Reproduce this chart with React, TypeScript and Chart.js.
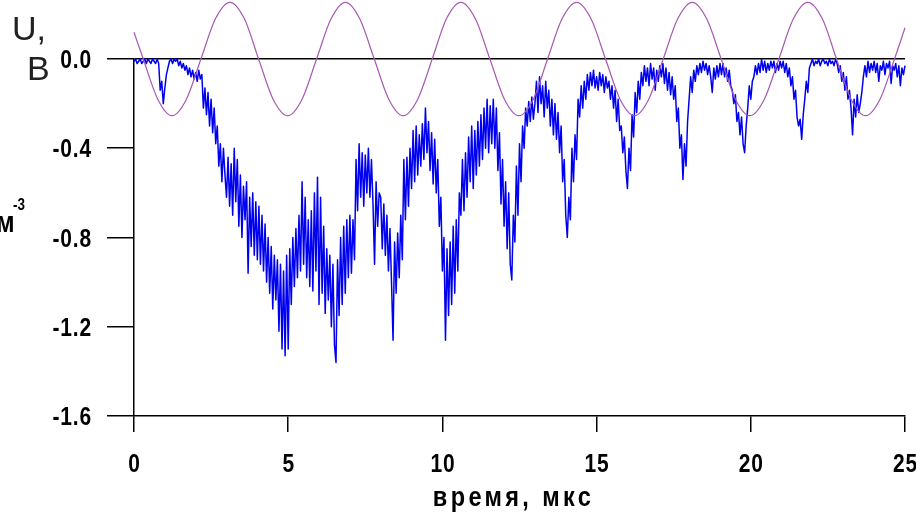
import { useEffect, useRef } from 'react';
import { Chart, registerables } from 'chart.js';

Chart.register(...registerables);

const FONT_BOLD = '"Liberation Sans", Arial, sans-serif';
const FONT_REG = '"Liberation Sans", Arial, sans-serif';
const NARROW = 0.84;

const xTicks = [0, 5, 10, 15, 20, 25];
const xTickLabels = ['0', '5', '10', '15', '20', '25'];
const yTicks = [-1.6, -1.2, -0.8, -0.4, 0];
const yTickLabels = ['-1.6', '-1.2', '-0.8', '-0.4', '0.0'];
const xTitle = 'время, мкс';
const yTitleLine1 = 'U,';
const yTitleLine2 = 'В';
const leftUnit = 'м';
const leftUnitSup = '-3';

// blue signal, sampled every 0.05 µs from t = 0
const blueSampleStep = 0.05;
const blueValues = [
  -0.01, 0, -0.02, -0.01, 0, -0.02, -0.01, 0, -0.02, 0, -0.01, -0.02, 0, -0.01, -0.02, 0, -0.02, -0.14, -0.10, -0.20,
  -0.13, -0.07, -0.04, -0.01, 0, -0.02, 0, -0.01, 0, -0.03, -0.01, -0.04, -0.02, -0.05, -0.03, -0.07, -0.04, -0.08, -0.05, -0.09,
  -0.06, -0.10, -0.05, -0.09, -0.07, -0.22, -0.13, -0.25, -0.15, -0.30, -0.18, -0.33, -0.22, -0.38, -0.30, -0.48, -0.38, -0.55, -0.40, -0.52,
  -0.62, -0.44, -0.66, -0.47, -0.70, -0.40, -0.64, -0.45, -0.75, -0.52, -0.80, -0.57, -0.72, -0.55, -0.96, -0.62, -0.84, -0.60, -0.88, -0.64,
  -0.90, -0.66, -0.92, -0.70, -0.95, -0.74, -1.00, -0.80, -1.05, -0.84, -1.12, -0.88, -1.08, -0.90, -1.22, -0.92, -1.30, -0.95, -1.33, -0.88,
  -1.30, -0.85, -1.10, -0.80, -1.02, -0.76, -0.98, -0.70, -0.95, -0.55, -0.92, -0.62, -0.98, -0.72, -1.02, -0.68, -1.04, -0.60, -0.95, -0.53,
  -1.10, -0.62, -1.05, -0.75, -1.14, -0.85, -1.08, -0.88, -1.20, -0.92, -1.28, -1.36, -0.90, -1.15, -0.80, -1.10, -0.75, -1.05, -0.72, -0.98,
  -0.70, -0.96, -0.72, -0.90, -0.45, -0.68, -0.38, -0.62, -0.42, -0.66, -0.43, -0.60, -0.40, -0.62, -0.45, -0.65, -0.92, -0.55, -0.75, -0.60,
  -0.62, -0.85, -0.65, -0.88, -0.70, -0.95, -0.76, -1.00, -1.26, -0.82, -1.05, -0.78, -0.98, -0.70, -0.90, -0.45, -0.72, -0.44, -0.66, -0.40,
  -0.58, -0.32, -0.55, -0.30, -0.52, -0.34, -0.48, -0.29, -0.45, -0.22, -0.42, -0.28, -0.50, -0.33, -0.56, -0.36, -0.60, -0.45, -0.75, -0.62,
  -0.95, -0.80, -1.26, -0.85, -1.15, -0.82, -1.10, -0.75, -1.05, -0.72, -0.95, -0.60, -0.70, -0.45, -0.68, -0.42, -0.62, -0.35, -0.55, -0.30,
  -0.58, -0.32, -0.52, -0.28, -0.48, -0.25, -0.45, -0.22, -0.40, -0.18, -0.42, -0.21, -0.38, -0.18, -0.40, -0.22, -0.50, -0.33, -0.65, -0.45,
  -0.75, -0.55, -0.85, -0.60, -0.92, -0.99, -0.70, -0.82, -0.48, -0.70, -0.38, -0.55, -0.30, -0.40, -0.22, -0.30, -0.19, -0.28, -0.17, -0.27,
  -0.20, -0.10, -0.24, -0.08, -0.20, -0.12, -0.26, -0.10, -0.22, -0.14, -0.30, -0.18, -0.34, -0.20, -0.36, -0.24, -0.42, -0.30, -0.55, -0.45,
  -0.70, -0.80, -0.62, -0.72, -0.40, -0.55, -0.34, -0.45, -0.18, -0.26, -0.12, -0.22, -0.10, -0.18, -0.07, -0.14, -0.06, -0.12, -0.05, -0.13,
  -0.08, -0.14, -0.06, -0.12, -0.07, -0.15, -0.08, -0.13, -0.10, -0.18, -0.12, -0.22, -0.14, -0.28, -0.18, -0.32, -0.30, -0.42, -0.35, -0.50,
  -0.58, -0.40, -0.50, -0.25, -0.35, -0.15, -0.24, -0.10, -0.18, -0.06, -0.12, -0.03, -0.10, -0.04, -0.12, -0.02, -0.09, -0.04, -0.14, -0.05,
  -0.10, -0.03, -0.08, -0.02, -0.11, -0.04, -0.14, -0.06, -0.16, -0.08, -0.18, -0.12, -0.28, -0.22, -0.40, -0.34, -0.54, -0.38, -0.48, -0.28,
  -0.18, -0.08, -0.15, -0.05, -0.10, -0.03, -0.07, -0.02, -0.06, -0.01, -0.05, -0.02, -0.07, -0.03, -0.08, -0.15, -0.04, -0.09, -0.03, -0.08,
  -0.02, -0.07, -0.02, -0.08, -0.04, -0.10, -0.05, -0.12, -0.14, -0.20, -0.16, -0.28, -0.24, -0.34, -0.26, -0.38, -0.42, -0.30, -0.22, -0.12,
  -0.18, -0.10, -0.08, -0.03, -0.07, -0.02, -0.06, 0, -0.05, -0.01, -0.06, -0.02, -0.05, -0.01, -0.04, -0.01, -0.06, -0.02, -0.05, -0.01,
  -0.04, -0.01, -0.06, -0.02, -0.08, -0.04, -0.12, -0.08, -0.18, -0.14, -0.26, -0.30, -0.27, -0.36, -0.25, -0.18, -0.10, -0.15, -0.04, -0.02,
  0, -0.03, -0.01, -0.02, 0, -0.03, -0.01, 0, -0.02, -0.01, -0.03, 0, -0.02, -0.01, -0.03, 0, -0.02, -0.06, -0.03, -0.10,
  -0.06, -0.14, -0.08, -0.18, -0.14, -0.22, -0.34, -0.18, -0.26, -0.16, -0.24, -0.20, -0.15, -0.08, -0.03, -0.08, -0.01, -0.06, -0.02, -0.05,
  -0.01, -0.06, -0.02, -0.10, -0.03, -0.05, -0.01, -0.07, -0.02, -0.04, -0.01, -0.11, -0.03, -0.05, -0.02, -0.08, -0.03, -0.12, -0.04, -0.07, -0.03,
];

// purple reference voltage curve
const purpleTimes = [
  0, 0.30, 0.77, 1.23, 1.70, 2.17, 2.64, 3.11, 3.58, 4.04, 4.51, 4.98, 5.45, 5.92, 6.39, 6.86, 7.32, 7.79,
  8.26, 8.73, 9.20, 9.67, 10.13, 10.60, 11.07, 11.54, 12.01, 12.48, 12.95, 13.41, 13.88, 14.35, 14.82, 15.29,
  15.76, 16.23, 16.69, 17.16, 17.63, 18.10, 18.57, 19.04, 19.50, 19.97, 20.44, 20.91, 21.38, 21.85, 22.32,
  22.78, 23.25, 23.72, 24.19, 24.66, 25,
];
const purpleValues = [
  0.12, 0, -0.18, -0.254, -0.18, 0, 0.18, 0.254, 0.18, 0, -0.18, -0.254, -0.18, 0, 0.18, 0.254, 0.18, 0,
  -0.18, -0.254, -0.18, 0, 0.18, 0.254, 0.18, 0, -0.18, -0.254, -0.18, 0, 0.18, 0.254, 0.18, 0,
  -0.18, -0.254, -0.18, 0, 0.18, 0.254, 0.18, 0, -0.18, -0.254, -0.18, 0, 0.18, 0.254, 0.18,
  0, -0.18, -0.254, -0.18, 0, 0.14,
];

function narrowText(ctx: any, text: string, x: number, y: number, align: string, font: string, spacing = 0) {
  ctx.save();
  ctx.translate(x, y);
  ctx.scale(NARROW, 1);
  ctx.font = font;
  ctx.letterSpacing = `${spacing}px`;
  ctx.textAlign = align;
  ctx.textBaseline = 'alphabetic';
  ctx.fillText(text, 0, 0);
  ctx.restore();
}

const axisText = {
  id: 'axisText',
  afterDraw(chart: any) {
    const ctx = chart.ctx;
    const xs = chart.scales.x;
    const ys = chart.scales.y;
    const tickFont = `bold 25px ${FONT_BOLD}`;
    ctx.save();
    ctx.fillStyle = '#000';
    yTicks.forEach((v, i) => {
      const py = ys.getPixelForValue(v);
      narrowText(ctx, yTickLabels[i], 92, py + 9, 'right', tickFont, 1);
    });
    xTicks.forEach((v, i) => {
      const px = xs.getPixelForValue(v);
      narrowText(ctx, xTickLabels[i], px + 0.5, 472, 'center', tickFont, 1);
    });
    const cx = (chart.chartArea.left + chart.chartArea.right) / 2;
    narrowText(ctx, xTitle, cx - 6, 506, 'center', `bold 28px ${FONT_BOLD}`, 4);
    narrowText(ctx, leftUnit, -4, 232, 'left', `bold 30px ${FONT_BOLD}`);
    narrowText(ctx, leftUnitSup, 13, 210, 'left', `bold 16px ${FONT_BOLD}`);
    ctx.fillStyle = '#222';
    ctx.font = `34px ${FONT_REG}`;
    ctx.textAlign = 'left';
    ctx.textBaseline = 'alphabetic';
    ctx.fillText(yTitleLine1, 12, 40);
    ctx.fillText(yTitleLine2, 27, 80);
    ctx.restore();
  },
};

export default function App() {
  const ref = useRef<HTMLCanvasElement>(null);

  useEffect(() => {
    const canvas = ref.current;
    if (!canvas) return;
    const blueData = blueValues.map((v, i) => ({ x: i * blueSampleStep, y: v }));
    const purpleData = purpleTimes.map((t, i) => ({ x: t, y: purpleValues[i] }));

    const chart = new Chart(canvas, {
      type: 'line',
      data: {
        datasets: [
          {
            label: 'U',
            data: purpleData,
            borderColor: '#a858b2',
            borderWidth: 1.2,
            pointRadius: 0,
            cubicInterpolationMode: 'monotone',
            capBezierPoints: false,
            clip: false,
            order: 0,
          } as any,
          {
            label: 'n',
            data: blueData,
            borderColor: '#0000f0',
            borderWidth: 1.5,
            pointRadius: 0,
            tension: 0,
            borderJoinStyle: 'round',
            clip: false,
            order: 1,
          } as any,
        ],
      },
      options: {
        responsive: false,
        animation: false,
        devicePixelRatio: 1,
        parsing: false,
        normalized: true,
        layout: { padding: { left: 0, right: 11, top: 59, bottom: 0 } },
        plugins: {
          legend: { display: false },
          tooltip: { enabled: false },
        },
        scales: {
          x: {
            type: 'linear',
            min: 0,
            max: 25,
            afterBuildTicks: (s: any) => {
              s.ticks = xTicks.map((v) => ({ value: v }));
            },
            afterFit: (s: any) => {
              s.height = 99;
              s.paddingLeft = 0;
              s.paddingRight = 0;
            },
            ticks: {
              display: false,
              autoSkip: false,
              maxRotation: 0,
              callback: (v: any) => xTickLabels[xTicks.indexOf(v)],
            },
            grid: {
              drawOnChartArea: false,
              drawTicks: true,
              tickLength: 16,
              tickColor: '#000',
              color: '#000',
              lineWidth: 1.5,
            },
            border: { color: '#000', width: 1.5 },
          },
          y: {
            type: 'linear',
            min: -1.6,
            max: 0,
            afterBuildTicks: (s: any) => {
              s.ticks = yTicks.map((v) => ({ value: v }));
            },
            afterFit: (s: any) => {
              s.width = 134;
              s.paddingTop = 0;
              s.paddingBottom = 0;
            },
            ticks: {
              display: false,
              autoSkip: false,
              callback: (v: any) => yTickLabels[yTicks.indexOf(v)],
            },
            grid: {
              drawOnChartArea: true,
              drawTicks: true,
              tickLength: 27,
              tickColor: '#000',
              color: (c: any) => (c.tick && c.tick.value === 0 ? '#000' : 'rgba(0,0,0,0)'),
              lineWidth: 1.5,
            },
            border: { color: '#000', width: 1.5 },
          },
        },
      },
      plugins: [axisText],
    });
    return () => chart.destroy();
  }, []);

  return (
    <div style={{ position: 'fixed', left: 0, top: 0, width: 916, height: 515, background: '#fff' }}>
      <canvas ref={ref} width={916} height={515} style={{ display: 'block', width: 916, height: 515 }} />
    </div>
  );
}
